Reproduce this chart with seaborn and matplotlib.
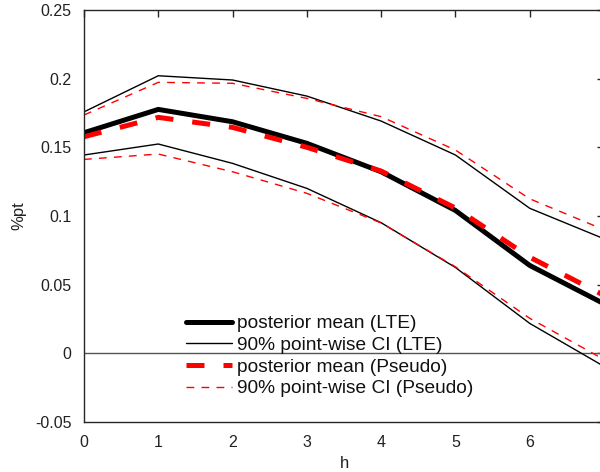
import pandas as pd
import matplotlib
matplotlib.use('Agg')
import matplotlib.pyplot as plt
import seaborn as sns

horizon = [0, 1, 2, 3, 4, 5, 6, 7]
mean_lte = [0.1606, 0.1776, 0.1686, 0.1529, 0.1322, 0.1040, 0.0640, 0.0361]
upper_lte = [0.1758, 0.2021, 0.1990, 0.1873, 0.1691, 0.1444, 0.1056, 0.0834]
lower_lte = [0.1444, 0.1524, 0.1383, 0.1201, 0.0951, 0.0625, 0.0218, -0.0095]
mean_pseudo = [0.1577, 0.1718, 0.1645, 0.1500, 0.1327, 0.1058, 0.0700, 0.0422]
upper_pseudo = [0.1735, 0.1973, 0.1966, 0.1856, 0.1723, 0.1480, 0.1125, 0.0900]
lower_pseudo = [0.1412, 0.1451, 0.1322, 0.1165, 0.0949, 0.0630, 0.0255, -0.0045]

yticks = [-0.05, 0, 0.05, 0.1, 0.15, 0.2, 0.25]
ytick_labels = ['-0.05', '0', '0.05', '0.1', '0.15', '0.2', '0.25']

sns.set_style('white')
plt.rcParams['font.family'] = ['Liberation Sans', 'DejaVu Sans']

axis_gray = '#262626'

fig = plt.figure(figsize=(6, 4.72), dpi=100)
ax = fig.add_axes([0.14, 0.1059, 0.8667, 0.873])

df = pd.DataFrame({'h': horizon, 'mean_lte': mean_lte, 'upper_lte': upper_lte,
                   'lower_lte': lower_lte, 'mean_pseudo': mean_pseudo,
                   'upper_pseudo': upper_pseudo, 'lower_pseudo': lower_pseudo})

ax.axhline(0, color='#555555', linewidth=1.0, zorder=1)

sns.lineplot(x='h', y='mean_lte', data=df, color='black', linewidth=3.6,
             label='posterior mean (LTE)', ax=ax)
sns.lineplot(x='h', y='upper_lte', data=df, color='black', linewidth=1.0,
             label='90% point-wise CI (LTE)', ax=ax)
sns.lineplot(x='h', y='lower_lte', data=df, color='black', linewidth=1.0, ax=ax)
sns.lineplot(x='h', y='mean_pseudo', data=df, color='red', linewidth=3.6,
             label='posterior mean (Pseudo)', ax=ax)
sns.lineplot(x='h', y='upper_pseudo', data=df, color='red', linewidth=1.0,
             label='90% point-wise CI (Pseudo)', ax=ax)
sns.lineplot(x='h', y='lower_pseudo', data=df, color='red', linewidth=1.0, ax=ax)

lines = ax.get_lines()
# lines[0] is the zero line
lines[4].set_dashes([3.6, 3.8])
lines[5].set_dashes([5.6, 5.2])
lines[6].set_dashes([5.6, 5.2])

ax.set_xlim(0, 7)
ax.set_ylim(-0.05, 0.25)
ax.set_xticks(horizon)
ax.set_xticklabels([str(h) for h in horizon])
ax.set_yticks(yticks)
ax.set_yticklabels(ytick_labels)
ax.tick_params(direction='in', length=5, width=1, colors=axis_gray,
               labelsize=11.5, top=True, right=True, labelcolor='#222222')
ax.tick_params(axis='y', pad=9)
ax.tick_params(axis='x', pad=9)
for sp in ax.spines.values():
    sp.set_color(axis_gray)
    sp.set_linewidth(1.0)

ax.set_xlabel('h', fontsize=12, color='#222222', labelpad=5)
ax.set_ylabel('%pt', fontsize=12, color='#222222', labelpad=6)

leg = ax.legend(loc='lower left', bbox_to_anchor=(0.196, 0.06), frameon=False,
                fontsize=13.8, handlelength=2.4, handletextpad=0.25,
                labelspacing=0.22, borderaxespad=0, borderpad=0)
for t in leg.get_texts():
    t.set_color('#111111')

fig.savefig('out.png', dpi=100)
